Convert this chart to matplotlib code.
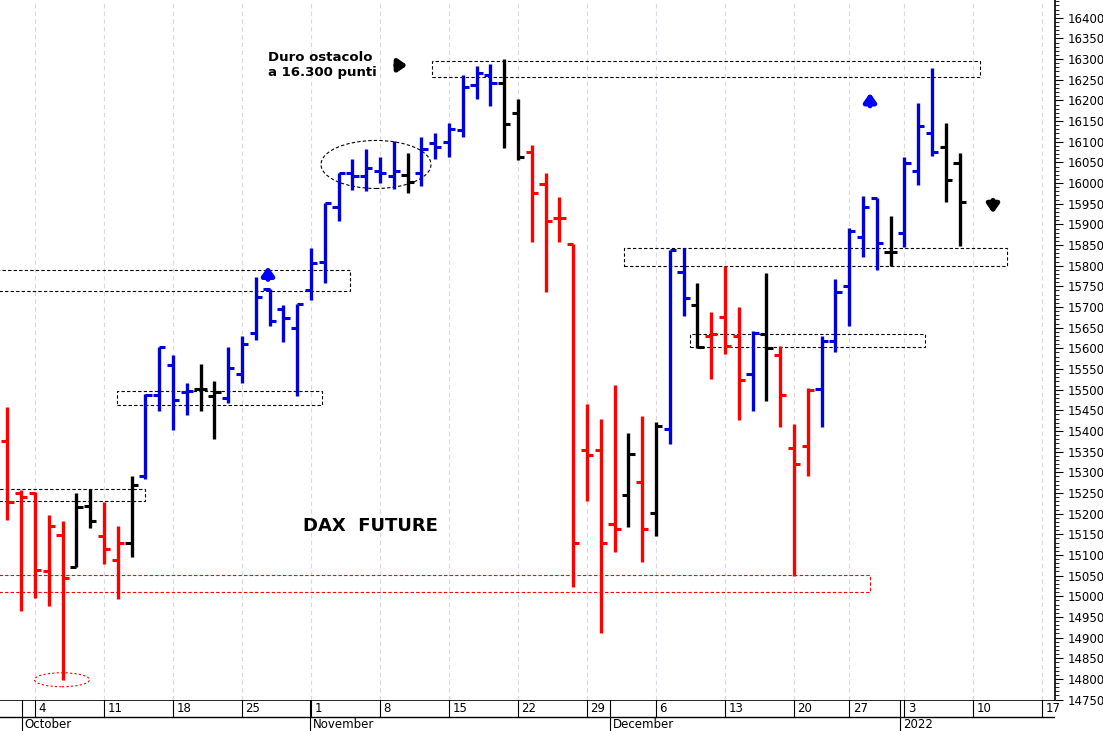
import matplotlib
matplotlib.use("Agg")
import matplotlib.pyplot as plt
from matplotlib.patches import Rectangle, Ellipse
from matplotlib.ticker import MultipleLocator
import pandas as pd

# trading days (Sep 30 2021 .. Jan 10 2022, no bars on Dec 24 and Dec 31)
days = pd.bdate_range("2021-09-30", "2022-01-10")
days = [d for d in days if d.strftime("%m-%d") not in ("12-24", "12-31")]

opens = [15375, 15251, 15251, 15062, 15149, 15072, 15219, 15145, 15089, 15130,
         15290, 15488, 15560, 15494, 15501, 15484, 15480, 15538, 15636, 15744,
         15696, 15649, 15740, 15808, 15941, 16025, 16018, 16029, 16018, 16020,
         16025, 16097, 16099, 16129, 16238, 16262, 16242, 16170, 16076, 15998,
         15916, 15852, 15353, 15353, 15174, 15245, 15277, 15202, 15404, 15785,
         15704, 15629, 15675, 15629, 15537, 15634, 15583, 15359, 15364, 15502,
         15618, 15752, 15869, 15964, 15834, 15880, 16030, 16122, 16087, 16048]
highs = [15459, 15258, 15253, 15197, 15181, 15251, 15259, 15229, 15170, 15291,
         15490, 15603, 15584, 15516, 15563, 15520, 15603, 15629, 15773, 15744,
         15706, 15708, 15843, 15952, 16025, 16058, 16082, 16064, 16101, 16073,
         16112, 16122, 16146, 16262, 16283, 16287, 16300, 16204, 16093, 16025,
         15967, 15852, 15465, 15430, 15511, 15396, 15436, 15422, 15838, 15842,
         15759, 15689, 15799, 15699, 15643, 15783, 15606, 15416, 15505, 15631,
         15768, 15891, 15969, 15964, 15921, 16064, 16193, 16278, 16146, 16072]
lows = [15185, 14965, 14995, 14977, 14798, 15072, 15166, 15078, 14993, 15094,
        15283, 15448, 15403, 15439, 15448, 15381, 15468, 15516, 15621, 15655,
        15615, 15485, 15716, 15759, 15908, 15984, 15980, 16000, 15985, 15976,
        15992, 16058, 16063, 16111, 16204, 16187, 16085, 16055, 15858, 15736,
        15858, 15022, 15230, 14911, 15107, 15168, 15083, 15145, 15369, 15678,
        15600, 15526, 15586, 15427, 15448, 15472, 15410, 15050, 15292, 15410,
        15592, 15653, 15820, 15789, 15800, 15846, 15996, 16065, 15954, 15848]
closes = [15229, 15240, 15064, 15170, 15044, 15217, 15181, 15115, 15130, 15270,
          15488, 15603, 15475, 15496, 15501, 15494, 15553, 15611, 15724, 15665,
          15673, 15708, 15807, 15952, 16025, 16018, 16036, 16025, 16029, 16002,
          16082, 16087, 16131, 16233, 16266, 16242, 16143, 16064, 15975, 15908,
          15916, 15130, 15342, 15128, 15162, 15344, 15162, 15413, 15837, 15723,
          15604, 15634, 15606, 15524, 15638, 15602, 15488, 15320, 15500, 15618,
          15737, 15884, 15942, 15854, 15834, 16048, 16139, 16076, 16007, 15954]
colors = list("RRRRRKKRRKBBBBKKBBBBBBBBBBBBBKBBBBBBKKRRRRRRRKRKBBKRRRBKRRRBBBBBKBBBKK")
cmap = {"R": "#ff0000", "B": "#0000dd", "K": "#000000"}

W, H = 1103, 731
fig = plt.figure(figsize=(W/100, H/100), dpi=100)
ax = fig.add_axes([0, 31/H, 1055/W, 1 - 31/H])
off = 2  # index of Oct 4
xs = [i - off for i in range(len(days))]
for x, o, h, l, c, col in zip(xs, opens, highs, lows, closes, colors):
    cc = cmap[col]
    ax.plot([x, x], [l, h], color=cc, lw=2.4, solid_capstyle="butt")
    ax.plot([x - 0.45, x], [o, o], color=cc, lw=2.2, solid_capstyle="butt")
    ax.plot([x, x + 0.45], [c, c], color=cc, lw=2.2, solid_capstyle="butt")

x0 = -35/13.8
x1 = (1055-35)/13.8
ax.set_xlim(x0, x1)
ax.set_ylim(14749, 16443)

# week positions (Mondays)
mondays = [i - off for i, d in enumerate(days) if d.weekday() == 0]
weeks = mondays + [mondays[-1] + 5]
week_labels = [str(d.day) for d in days if d.weekday() == 0] + ["17"]
for w in weeks:
    ax.axvline(w, color="#d8d8e0", lw=0.8, ls=(0, (4, 3)), zorder=0)

# right axis
ax.yaxis.tick_right()
ax.yaxis.set_major_locator(MultipleLocator(50))
ax.yaxis.set_minor_locator(MultipleLocator(10))
ax.tick_params(axis="y", which="major", length=6, labelsize=8.5, pad=3)
ax.tick_params(axis="y", which="minor", length=3)
ax.set_xticks([])
for s in ["top", "left", "bottom"]:
    ax.spines[s].set_visible(False)
ax.spines["right"].set_linewidth(1.2)

def dashed_box(xa, xb, ya, yb, col="black", ls=(0, (3, 2))):
    ax.add_patch(Rectangle((xa, ya), xb - xa, yb - ya, fill=False, ec=col, lw=0.8, ls=ls, zorder=1))

px = lambda p: (p - 35) / 13.8
dashed_box(px(-5), px(350), 15739, 15790)
dashed_box(px(117), px(322), 15463, 15497)
dashed_box(px(432), px(980), 16257, 16296)
dashed_box(px(624), px(1007), 15800, 15844)
dashed_box(px(690), px(925), 15604, 15635)
dashed_box(px(-5), px(145), 15231, 15260)
dashed_box(px(-5), px(870), 15011, 15052, col="#ff0000")

ax.add_patch(Ellipse((px(376), 16045), 110/13.8, 48/0.413, fill=False, ec="black", lw=0.8, ls=(0, (3, 2))))
ax.add_patch(Ellipse((px(62), 14798), 55/13.8, 14/0.413, fill=False, ec="#ff0000", lw=0.8, ls=(0, (2, 2))))

def arrow(xp, yp, dx, dy, col):
    ax.annotate("", xy=(px(xp + dx), yp + dy), xytext=(px(xp), yp),
                arrowprops=dict(arrowstyle="-|>,head_length=0.5,head_width=0.35", color=col, lw=3.5))

arrow(268, 15760, 0, 45, "#0000ff")
arrow(870, 16180, 0, 45, "#0000ff")
arrow(393, 16285, 17, 0, "black")
arrow(993, 15965, 0, -45, "black")

ax.text(px(268), 16305, "Duro ostacolo", fontsize=9.5, fontweight="bold", va="center")
ax.text(px(268), 16268, "a 16.300 punti", fontsize=9.5, fontweight="bold", va="center")
ax.text(px(303), 15170, "DAX  FUTURE", fontsize=13, fontweight="bold", va="center")

# date strip
ax2 = fig.add_axes([0, 0, 1055/W, 31/H])
ax2.set_xlim(x0, x1)
ax2.set_ylim(0, 31)
ax2.axis("off")
ax2.axhline(31, color="black", lw=1.2)
ax2.axhline(14, color="black", lw=1)
for w, lab in zip(weeks, week_labels):
    ax2.plot([w, w], [14, 31], color="black", lw=0.8)
    ax2.text(w + 0.25, 22.5, lab, fontsize=8.5, va="center")
month_starts = [("October", px(22)), ("November", px(310)), ("December", px(610)), ("2022", px(900))]
for name, pos in month_starts:
    ax2.plot([pos, pos], [0, 31], color="black", lw=0.8)
    ax2.text(pos + 0.2, 6.5, name, fontsize=8.5, va="center")

fig.savefig("out.png", dpi=100)
